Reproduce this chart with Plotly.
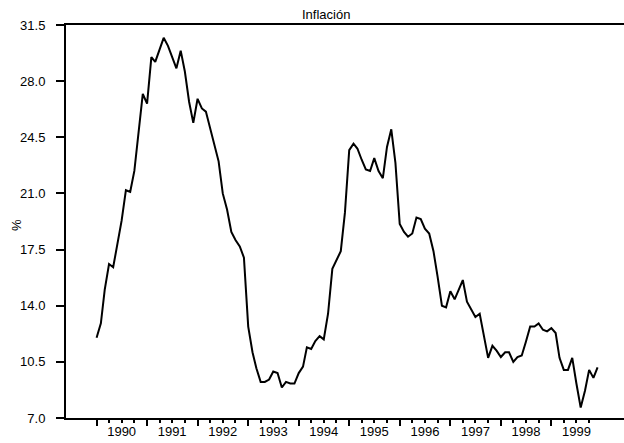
import pandas as pd
import plotly.graph_objects as go

# ---- data ----
months = pd.date_range("1990-01-01", periods=120, freq="MS")
inflation = [
    12.0, 12.9, 15.0, 16.6, 16.4, 18.0, 19.3, 21.2, 21.1, 22.4, 24.8, 27.2,   # 1990
    26.6, 29.5, 29.2, 30.0, 30.7, 30.2, 29.5, 28.8, 29.9, 28.6, 26.7, 25.4,   # 1991
    26.9, 26.3, 26.1, 25.0, 24.0, 23.0, 21.0, 20.0, 18.6, 18.1, 17.7, 17.0,   # 1992
    12.7, 11.1, 10.1, 9.25, 9.25, 9.4, 9.9, 9.8, 8.9, 9.25, 9.15, 9.15,       # 1993
    9.8, 10.2, 11.4, 11.3, 11.8, 12.1, 11.9, 13.5, 16.3, 16.8, 17.4, 19.8,    # 1994
    23.7, 24.1, 23.8, 23.1, 22.5, 22.4, 23.2, 22.4, 21.95, 23.9, 25.0, 22.9,  # 1995
    19.1, 18.6, 18.3, 18.5, 19.5, 19.4, 18.8, 18.5, 17.4, 15.8, 14.0, 13.9,   # 1996
    14.9, 14.4, 15.0, 15.6, 14.25, 13.8, 13.3, 13.5, 12.2, 10.75, 11.5, 11.2, # 1997
    10.8, 11.1, 11.1, 10.5, 10.8, 10.9, 11.75, 12.7, 12.7, 12.9, 12.5, 12.4,  # 1998
    12.6, 12.3, 10.75, 10.0, 10.0, 10.75, 9.15, 7.65, 8.7, 10.0, 9.5, 10.15,  # 1999
]
years = list(range(1990, 2000))
year_labels = [str(y) for y in years]
y_ticks = [7.0, 10.5, 14.0, 17.5, 21.0, 24.5, 28.0, 31.5]

major_ticks = [f"{y}-01-01" for y in years]
minor_ticks = [f"{y}-{m:02d}-01" for y in years for m in (4, 7, 10)]
label_pos = [f"{y}-07-01" for y in years]
x_range = ["1989-05-25", "2000-06-09"]

FONT = "Liberation Sans, Arial, sans-serif"

fig = go.Figure()
fig.add_trace(go.Scatter(
    x=months, y=inflation, mode="lines",
    line=dict(color="black", width=2),
    showlegend=False, hoverinfo="skip",
))
# invisible trace to anchor the label axis
fig.add_trace(go.Scatter(
    x=months, y=inflation, mode="lines", xaxis="x2",
    line=dict(color="rgba(0,0,0,0)", width=0),
    showlegend=False, hoverinfo="skip",
))

fig.update_layout(
    width=624, height=443,
    margin=dict(l=66, r=0, t=25, b=25),
    paper_bgcolor="white", plot_bgcolor="white",
    font=dict(family=FONT, size=13, color="black"),
    xaxis=dict(
        type="date", range=x_range,
        tickmode="array", tickvals=major_ticks, ticktext=[""] * len(major_ticks),
        ticks="outside", ticklen=6, tickwidth=2, tickcolor="black",
        minor=dict(tickmode="array", tickvals=minor_ticks, ticks="outside",
                   ticklen=3, tickwidth=2, tickcolor="black", showgrid=False),
        showline=True, linecolor="black", linewidth=2, mirror=True,
        showgrid=False, zeroline=False,
    ),
    xaxis2=dict(
        type="date", range=x_range, overlaying="x", side="bottom", anchor="y",
        tickmode="array", tickvals=label_pos, ticktext=year_labels,
        ticks="", ticklabelstandoff=4,
        tickfont=dict(family=FONT, size=13, color="black"),
        showline=False, showgrid=False, zeroline=False,
    ),
    yaxis=dict(
        range=[7.0, 31.5], tickmode="array", tickvals=y_ticks,
        tickformat=".1f",
        ticks="outside", ticklen=8, tickwidth=2, tickcolor="black",
        ticklabelstandoff=8,
        tickfont=dict(family=FONT, size=13, color="black"),
        showline=True, linecolor="black", linewidth=2,
        showgrid=False, zeroline=False,
    ),
    annotations=[
        dict(text="Inflación", xref="paper", yref="paper",
             x=(326 - 66) / 558, y=1.0, yshift=11, xanchor="center", yanchor="middle",
             showarrow=False, font=dict(family=FONT, size=13, color="black")),
        dict(text="%", xref="paper", yref="paper",
             x=(16 - 66) / 558, y=(418 - 225) / 393, xanchor="center", yanchor="middle",
             textangle=-90, showarrow=False,
             font=dict(family=FONT, size=13, color="black")),
    ],
)

fig.write_html(
    "out.html",
    config={"displayModeBar": False, "staticPlot": True},
    post_script="document.body.style.margin='0';document.body.style.overflow='hidden';",
)
